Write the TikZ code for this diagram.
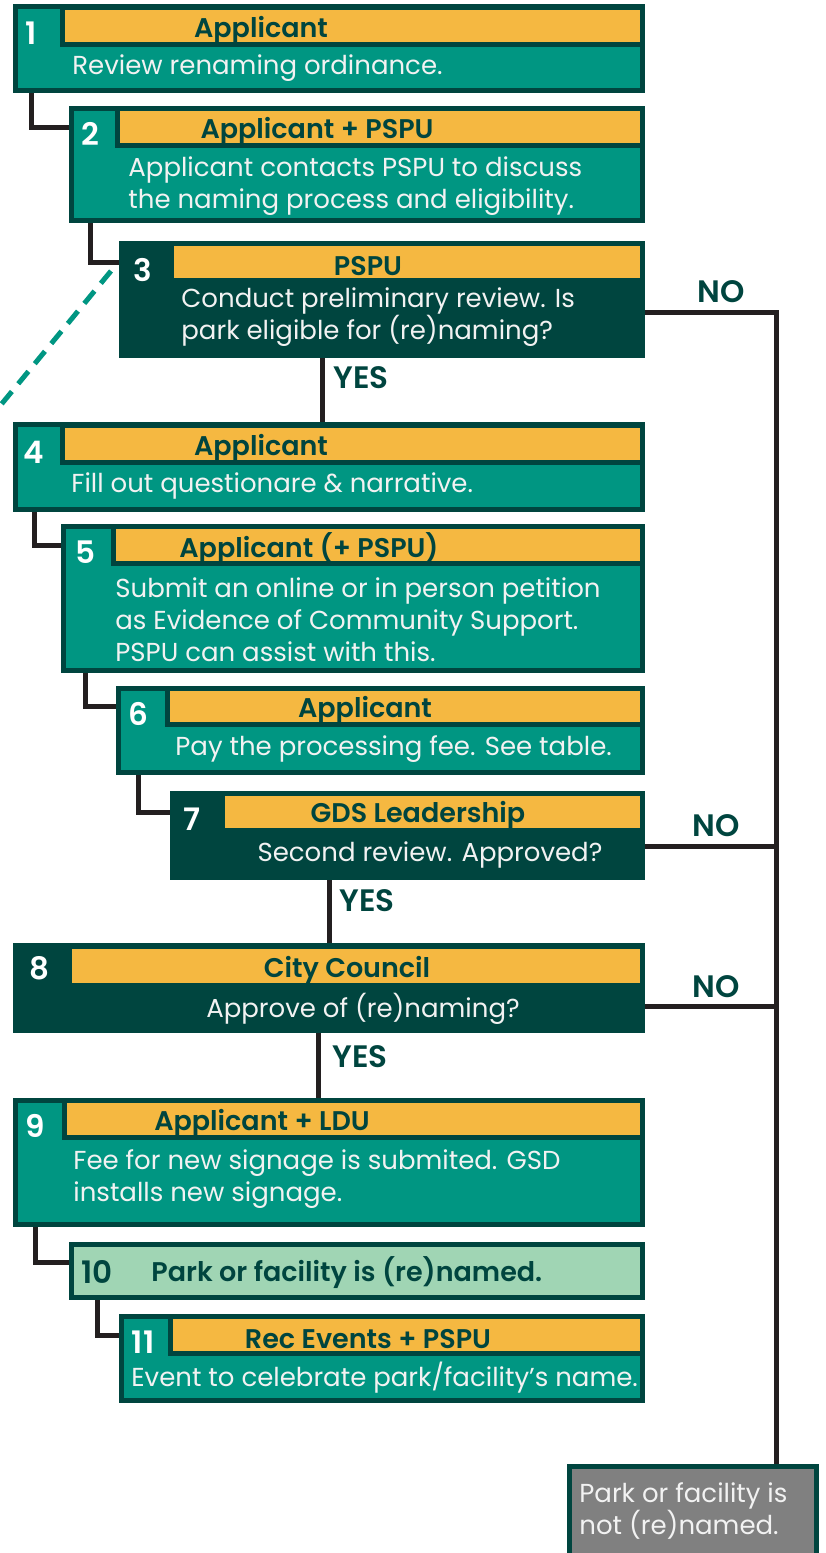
\documentclass[tikz,border=0pt]{standalone}
\usepackage{fontspec}
\setmainfont{Poppins}[BoldFont={Poppins SemiBold}]
\usetikzlibrary{positioning,fit,calc}

\definecolor{stepgreen}{HTML}{009682}
\definecolor{deepgreen}{HTML}{00453F}
\definecolor{headyellow}{HTML}{F5B841}
\definecolor{palegreen}{HTML}{A0D5B4}
\definecolor{stopgray}{HTML}{808080}
\definecolor{linkblack}{HTML}{231F20}

\begin{document}
\begin{tikzpicture}[x=0.5pt, y=-0.5pt,
    box/.style={draw=deepgreen, line width=2.5pt, inner sep=0pt},
    head/.style={box, fill=headyellow},
    num/.style={font=\bfseries\fontsize{15.5}{18}\selectfont, text=white, inner sep=0pt, yshift=-1pt},
    headtxt/.style={font=\bfseries\fontsize{13.5}{16}\selectfont, text=deepgreen, inner sep=0pt, yshift=-1.5pt},
    bodytxt/.style={font=\fontsize{13}{16}\selectfont, text=white!95!black, align=left, inner sep=0pt, anchor=west, yshift=-1.5pt},
    answer/.style={font=\bfseries\fontsize{15.5}{18}\selectfont, text=deepgreen, inner sep=0pt},
    link/.style={draw=linkblack, line width=2.5pt}]

    \useasboundingbox (0,0) rectangle (825,1553);

    % Step 1
    \node[box, fill=stepgreen, fit={(15.5,6.5) (642.5,90.5)}] (b1) {};
    \node[head, fit={(62.5,7.5) (642.5,44.5)}] (h1) {};
    \node[num] (n1) at (31,31) {1};
    \node[headtxt] (a1) at (261,27) {Applicant};
    \node[bodytxt] (d1) at (72,65) {Review renaming ordinance.};

    % Step 2
    \node[box, fill=stepgreen, fit={(71.5,108.5) (642.5,220.5)}] (b2) {};
    \node[head, fit={(117.5,108.5) (642.5,145.5)}] (h2) {};
    \node[num] (n2) at (90,132) {2};
    \node[headtxt] (a2) at (317,128) {Applicant + PSPU};
    \node[bodytxt] (d2) at (128,183) {Applicant contacts PSPU to discuss\\the naming process and eligibility.};

    % Step 3 (decision)
    \node[box, fill=deepgreen, fit={(121.5,243.5) (642.5,355.5)}] (b3) {};
    \node[head, fit={(171.5,243.5) (642.5,280.5)}] (h3) {};
    \node[num] (n3) at (143,268) {3};
    \node[headtxt] (a3) at (368,263) {PSPU};
    \node[bodytxt] (d3) at (181,314) {Conduct preliminary review. Is\\park eligible for (re)naming?};

    % Step 4
    \node[box, fill=stepgreen, fit={(15.5,424.5) (642.5,509.5)}] (b4) {};
    \node[head, fit={(62.5,425.5) (642.5,462.5)}] (h4) {};
    \node[num] (n4) at (34,450) {4};
    \node[headtxt] (a4) at (261,445) {Applicant};
    \node[bodytxt] (d4) at (71,483) {Fill out questionare \& narrative.};

    % Step 5
    \node[box, fill=stepgreen, fit={(63.5,526.5) (642.5,670.5)}] (b5) {};
    \node[head, fit={(113.5,526.5) (642.5,563.5)}] (h5) {};
    \node[num] (n5) at (85,550) {5};
    \node[headtxt] (a5) at (309,546) {Applicant (+ PSPU)};
    \node[bodytxt] (d5) at (115,617) {Submit an online or in person petition\\as Evidence of Community Support.\\PSPU can assist with this.};

    % Step 6
    \node[box, fill=stepgreen, fit={(118.5,688.5) (642.5,772.5)}] (b6) {};
    \node[head, fit={(167.5,688.5) (642.5,724.5)}] (h6) {};
    \node[num] (n6) at (138,712) {6};
    \node[headtxt] (a6) at (365,707) {Applicant};
    \node[bodytxt] (d6) at (175,746) {Pay the processing fee. See table.};

    % Step 7 (decision)
    \node[box, fill=deepgreen, fit={(172.5,793.5) (642.5,877.5)}] (b7) {};
    \node[head, fit={(222.5,793.5) (642.5,830.5)}] (h7) {};
    \node[num] (n7) at (192,817) {7};
    \node[headtxt] (a7) at (418,812) {GDS Leadership};
    \node[bodytxt, anchor=center] (d7) at (430,852) {Second review. Approved?};

    % Step 8 (decision)
    \node[box, fill=deepgreen, fit={(15.5,945.5) (642.5,1030.5)}] (b8) {};
    \node[head, fit={(69.5,946.5) (642.5,985.5)}] (h8) {};
    \node[num] (n8) at (39,966) {8};
    \node[headtxt] (a8) at (347,967) {City Council};
    \node[bodytxt, anchor=center] (d8) at (363,1006) {Approve of (re)naming?};

    % Step 9
    \node[box, fill=stepgreen, fit={(15.5,1100.5) (642.5,1224.5)}] (b9) {};
    \node[head, fit={(64.5,1100.5) (642.5,1137.5)}] (h9) {};
    \node[num] (n9) at (35,1124) {9};
    \node[headtxt] (a9) at (262,1120) {Applicant + LDU};
    \node[bodytxt] (d9) at (73,1176) {Fee for new signage is submited. GSD\\installs new signage.};

    % Step 10
    \node[box, fill=palegreen, fit={(71.5,1244.5) (642.5,1297.5)}] (b10) {};
    \node[num, text=deepgreen] (n10) at (97,1270) {10};
    \node[headtxt, anchor=west] (d10) at (151,1270) {Park or facility is (re)named.};

    % Step 11
    \node[box, fill=stepgreen, fit={(121.5,1316.5) (642.5,1400.5)}] (b11) {};
    \node[head, fit={(170.5,1316.5) (642.5,1353.5)}] (h11) {};
    \node[num] (n11) at (143,1340) {11};
    \node[headtxt] (a11) at (368,1336) {Rec Events + PSPU};
    \node[bodytxt] (d11) at (131,1375) {Event to celebrate park/facility’s name.};

    % Not renamed
    \node[box, fill=stopgray, fit={(569.5,1466.5) (816.5,1570)}] (nogo) {};
    \node[bodytxt] (dn) at (579,1508) {Park or facility is\\not (re)named.};

    % Step to step links
    \draw[link] (n1 |- b1.south) |- (b2.west |- h2);
    \draw[link] (n2 |- b2.south) |- (b3.west |- h3);
    \draw[link] (n4 |- b4.south) |- (b5.west |- h5);
    \draw[link] (n5 |- b5.south) |- (b6.west |- h6);
    \draw[link] (n6 |- b6.south) |- (b7.west |- h7);
    \draw[link] (n9 |- b9.south) |- ([yshift=4.5pt]b10.west);
    \draw[link] (n10 |- b10.south) |- (b11.west |- h11);

    % YES links
    \node[answer, anchor=west] (y3) at (333,378) {YES};
    \node[answer, anchor=west] (y7) at (339,901) {YES};
    \node[answer, anchor=west] (y8) at (332,1057) {YES};
    \draw[link] ([xshift=-5.5pt]y3.west |- b3.south) -- ([xshift=-5.5pt]y3.west |- b4.north);
    \draw[link] ([xshift=-5pt]y7.west |- b7.south) -- ([xshift=-5pt]y7.west |- b8.north);
    \draw[link] ([xshift=-7pt]y8.west |- b8.south) -- ([xshift=-7pt]y8.west |- b9.north);

    % NO links
    \coordinate (rail) at (776,312);
    \node[answer] (no3) at (721,292) {NO};
    \node[answer] (no7) at (716,826) {NO};
    \node[answer] (no8) at (716,987) {NO};
    \draw[link] ($(b3.east |- d3)+(0,2.5pt)$) -| (rail |- nogo.north);
    \draw[link] ($(b7.east |- d7)+(0,4.5pt)$) -- ($(rail |- d7)+(0,4.5pt)$);
    \draw[link] ($(b8.east |- d8)+(0,1.5pt)$) -- ($(rail |- d8)+(0,1.5pt)$);

    % Dashed lead-out
    \draw[stepgreen, line width=2.5pt, dash pattern=on 8pt off 5pt] ([shift={(-4pt,-15pt)}]b3.north west) -- (-5,412);

\end{tikzpicture}
\end{document}
